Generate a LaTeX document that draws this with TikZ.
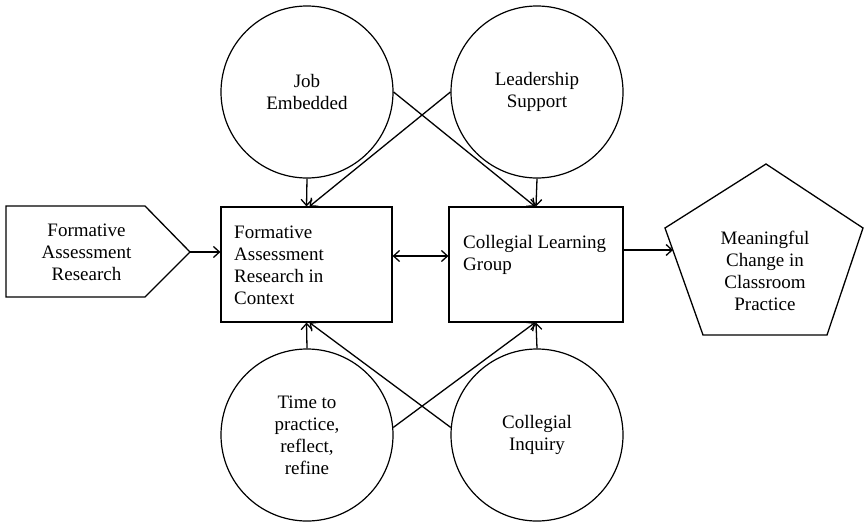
\documentclass[tikz,border=0pt]{standalone}
\usepackage{fontspec}
\setmainfont{Liberation Serif}
\usetikzlibrary{arrows.meta}
\begin{document}
\begin{tikzpicture}[x=1pt,y=-1pt,
  every node/.style={font=\fontsize{19}{22}\selectfont},
  bubble/.style={draw,line width=1.2pt,circle,minimum size=172pt,inner sep=0pt,align=center},
  stagebox/.style={draw,line width=1.2pt,rectangle,minimum height=115pt,inner sep=0pt},
  txt/.style={inner sep=0pt,align=center},
  txtl/.style={inner sep=0pt,align=left,anchor=west},
  shp/.style={draw,line width=1.3pt,line join=miter},
  tipstyle/.style={Straight Barb[length=6pt,width=11pt,line width=1.3pt]},
  link/.style={line width=1.3pt,-{Straight Barb[length=6pt,width=11pt]}},
  dlink/.style={line width=1.3pt,{Straight Barb[length=6pt,width=11pt]}-{Straight Barb[length=6pt,width=11pt]}}]
\useasboundingbox (0,0) rectangle (864,522);
% circles
\node[bubble] (job) at (307,92) {Job\\Embedded};
\node[bubble] (lead) at (537,92) {Leadership\\Support};
\node[bubble] (time) at (307,435) {Time to\\practice,\\reflect,\\refine};
\node[bubble] (inq) at (537,435) {Collegial\\Inquiry};
% boxes
\node[stagebox,minimum width=171pt] (far) at (306.5,264.5) {};
\node[txtl] (fartxt) at (234,265) {Formative\\Assessment\\Research in\\Context};
\node[stagebox,minimum width=174pt] (clg) at (536,264.5) {};
\node[txtl] (clgtxt) at (463,254.5) {Collegial Learning\\Group};
% left input shape
\draw[shp] (6,206) -- (145,206) -- (190,252) -- (145,297) -- (6,297) -- cycle;
\coordinate (tip) at (190,252);
\node[txt] (srctxt) at (86.5,252.5) {Formative\\Assessment\\Research};
% pentagon
\draw[shp] (766,164) -- (863,228) -- (827,335) -- (703,335) -- (665,228) -- cycle;
\coordinate (pentin) at (673,250);
\node[txt] (penttxt) at (765,270.5) {Meaningful\\Change in\\Classroom\\Practice};
% connectors
\draw[link] (tip) -- (tip -| far.west);
\draw[dlink] ([yshift=8.5pt]far.east) -- ([yshift=8.5pt]clg.west);
\draw[link] ([yshift=14.5pt]clg.east) -- (pentin);
\draw[link] (job.south) -- (far.north);
\draw[link] (lead.west) -- ([xshift=3pt]far.north);
\draw[link] (job.east) -- ([xshift=-1pt]clg.north);
\draw[link] (lead.south) -- (clg.north);
\draw[link] (time.north) -- (far.south);
\draw[link] (inq.175) -- ([xshift=3pt]far.south);
\draw[link] (time.5) -- ([xshift=-1pt]clg.south);
\draw[link] (inq.north) -- (clg.south);
\end{tikzpicture}
\end{document}
